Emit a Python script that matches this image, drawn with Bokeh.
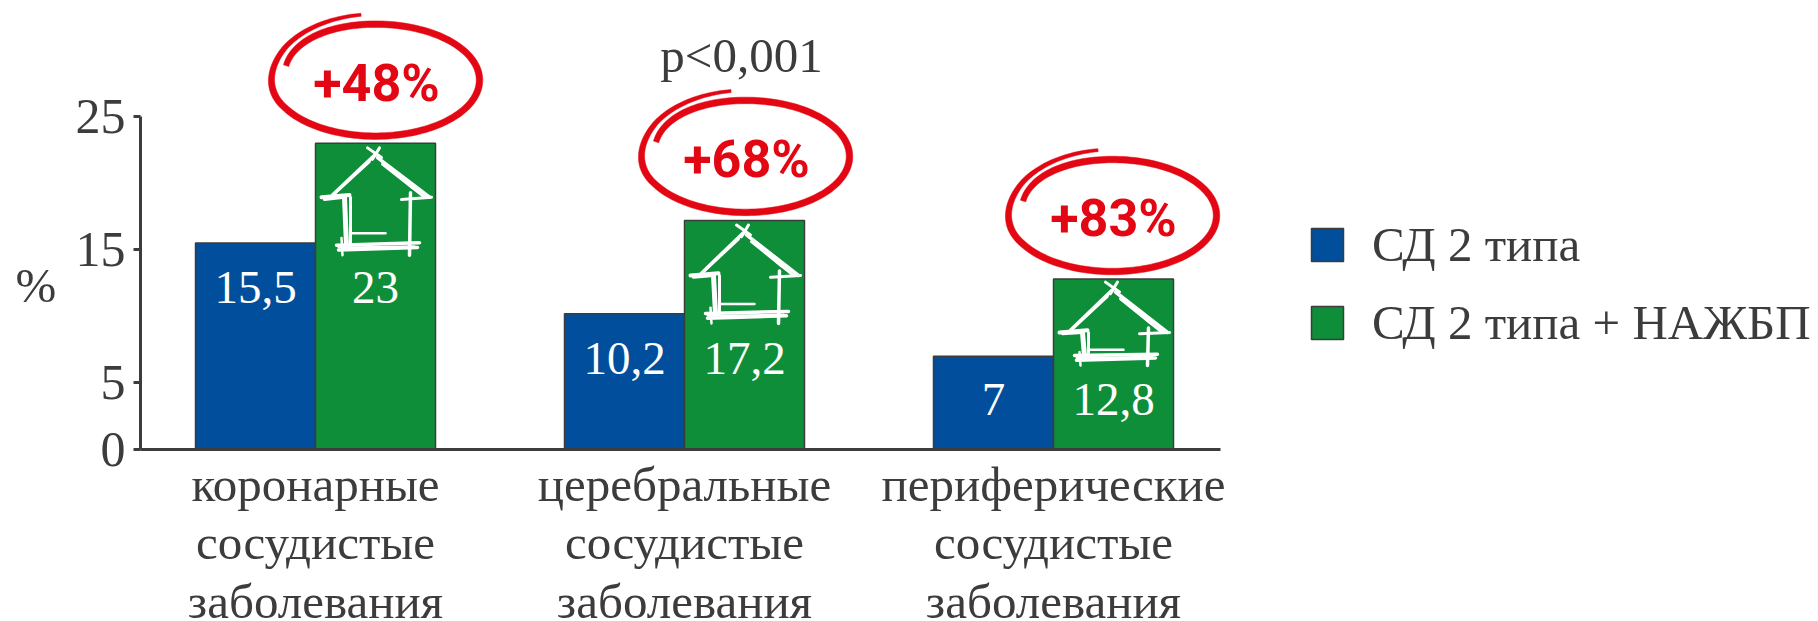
import math

from bokeh.core.properties import value
from bokeh.embed import file_html
from bokeh.models import ColumnDataSource, FixedTicker, Legend, LegendItem, LinearAxis, Range1d
from bokeh.plotting import figure
from bokeh.resources import INLINE

# --- chart values ---
categories = ["коронарные\nсосудистые\nзаболевания",
              "церебральные\nсосудистые\nзаболевания",
              "периферические\nсосудистые\nзаболевания"]
series_names = ["СД 2 типа", "СД 2 типа + НАЖБП"]
dm2_values = [15.5, 10.2, 7]
dm2_nafld_values = [23, 17.2, 12.8]
dm2_labels = ["15,5", "10,2", "7"]
dm2_nafld_labels = ["23", "17,2", "12,8"]
increase_labels = ["+48%", "+68%", "+83%"]
y_ticks = [0, 5, 15, 25]
p_value = "p<0,001"

# --- layout: the frame fills the page, one group step and one axis unit in pixels ---
W, H = 1818, 621
AXIS_X_PX, AXIS_Y_PX = 140, 449
PX_PER_GROUP = 369.0
PX_PER_UNIT = 13.32
FIRST_GROUP_PX = 315
BAR_W = 120 / PX_PER_GROUP
SERIF = "Liberation Serif"
INK = "#3c3c3c"
BLUE, GREEN, RED = "#014e9c", "#0f8e39", "#e30613"
FS = "49px"
BASELINE_DROP = 0.36            # share of the font size that glyph text sits below its anchor


def data_x(px):
    return (px - FIRST_GROUP_PX) / PX_PER_GROUP


def data_y(px):
    return (AXIS_Y_PX - px) / PX_PER_UNIT


label_y = [data_y(v - BASELINE_DROP * 47) for v in (304, 375, 416)]

p = figure(width=W, height=H, output_backend="svg", toolbar_location=None,
           min_border=0, x_axis_location=None, y_axis_location=None,
           x_range=Range1d(data_x(0), data_x(W)), y_range=Range1d(data_y(H), data_y(0)),
           outline_line_color=None, background_fill_color="white")
p.grid.visible = False

# --- axes ---
ya = LinearAxis(fixed_location=data_x(AXIS_X_PX), ticker=FixedTicker(ticks=y_ticks), bounds=(0, 25),
                axis_line_color=INK, axis_line_width=3, major_tick_line_color=INK,
                major_tick_line_width=3, major_tick_out=7, major_tick_in=0, minor_tick_line_color=None,
                major_label_text_font=SERIF, major_label_text_font_size="50px",
                major_label_text_color=INK, major_label_standoff=8)
p.add_layout(ya, "left")

xa = LinearAxis(fixed_location=0, ticker=FixedTicker(ticks=[0, 1, 2]),
                major_label_overrides={i: c for i, c in enumerate(categories)},
                bounds=(data_x(AXIS_X_PX), data_x(1220)),
                axis_line_color=INK, axis_line_width=3, major_tick_line_color=None,
                minor_tick_line_color=None, major_label_text_font=SERIF,
                major_label_text_font_size=FS, major_label_text_color=INK,
                major_label_text_line_height=1.07, major_label_standoff=1)
p.add_layout(xa, "below")

# --- bars ---
idx = list(range(len(categories)))
left_src = ColumnDataSource(dict(x=[i - BAR_W / 2 for i in idx], top=dm2_values,
                                 ly=label_y, t=dm2_labels))
right_src = ColumnDataSource(dict(x=[i + BAR_W / 2 for i in idx], top=dm2_nafld_values,
                                  ly=label_y, t=dm2_nafld_labels))
left_bars = p.vbar(x="x", top="top", bottom=0, width=BAR_W, source=left_src,
                   fill_color=BLUE, line_color=INK, line_width=1.5)
right_bars = p.vbar(x="x", top="top", bottom=0, width=BAR_W, source=right_src,
                    fill_color=GREEN, line_color=INK, line_width=1.5)
for src in (left_src, right_src):
    p.text(x="x", y="ly", text="t", source=src, text_align="center",
           text_baseline="alphabetic", text_color="white",
           text_font=value(SERIF), text_font_size="47px")


def ring_outline():
    """Outline of a pen ring that overlaps itself: x from the centre, y up from the lowest point."""
    a, cy = 104, 55
    upper, lower = [], []
    steps = 200
    line = []
    for s in range(steps + 1):
        phi = -165 + (262 + 165) * s / steps
        ax = a * (0.89 + 0.11 * min(1, (phi + 165) / 75))
        if phi < 150:
            b = 56
        elif phi < 210:
            b = 56 + 10 * (phi - 150) / 60
        else:
            b = 66
        width = 5.5 + 1 * min(1, (phi + 165) / 40) if phi < 170 else 6.5 - 3.5 * (phi - 170) / 92
        line.append((ax * math.cos(math.radians(phi)), cy - b * math.sin(math.radians(phi)), width))
    for k, (x, y, w) in enumerate(line):
        x0, y0, _ = line[max(k - 1, 0)]
        x1, y1, _ = line[min(k + 1, steps)]
        dx, dy = x1 - x0, y1 - y0
        n = math.hypot(dx, dy) or 1
        upper.append((x - dy / n * w / 2, y + dx / n * w / 2))
        lower.append((x + dy / n * w / 2, y - dx / n * w / 2))
    return upper + lower[::-1]


ring_gap = [8, 9, 8.5]          # px between ring centreline and bar top
ring_dx = [0, 1, -1]
text_lift = [41, 42, 41.5]      # px from bar top to the text baseline
text_dx = [1, 2, 0]
BADGE_PX = 52

outline = ring_outline()
ring_xs = [[right_src.data["x"][i] + (ring_dx[i] + u) / PX_PER_GROUP for u, _ in outline] for i in idx]
ring_ys = [[dm2_nafld_values[i] + (ring_gap[i] + v) / PX_PER_UNIT for _, v in outline] for i in idx]
p.patches(ring_xs, ring_ys, fill_color=RED, line_color=RED, line_width=0.5)

p.text(x=[right_src.data["x"][i] + text_dx[i] / PX_PER_GROUP for i in idx],
       y=[dm2_nafld_values[i] + (text_lift[i] + BASELINE_DROP * BADGE_PX) / PX_PER_UNIT for i in idx],
       text=increase_labels, text_align="center", text_baseline="alphabetic",
       text_color=RED, text_font=value("Roboto"), text_font_style="bold",
       text_font_size=f"{BADGE_PX}px")

# Chalk house: strokes as (x0, f0, x1, f1, width); x from the ridge; f runs 0..1 along
# the roof, 1..2 down the wall, and past 2 below the floor.
HOUSE = [(-7, -0.12, 7, 0.1, 3), (5, -0.12, -2, 0.14, 3),
         (0, 0.05, -42, 0.95, 3.5), (-5, 0.2, -39, 0.9, 2.5), (-2, 0.1, -35, 0.8, 2),
         (3, 0.1, 55, 1.0, 3.5), (8, 0.25, 50, 1.0, 3), (12, 0.3, 38, 0.8, 2),
         (-53, 1.0, -25, 0.95, 4), (-50, 1.05, -30, 1.0, 3),
         (-30, 1.0, -28, 2.02, 5), (-24, 1.0, -24, 2.0, 3),
         (27, 1.05, 57, 1.0, 3), (36, 0.9, 35, 2.25, 3.5),
         (-38, 2.0, 45, 1.95, 3.5), (-36, 2.12, 43, 2.06, 3.5), (-24, 1.75, 11, 1.75, 2.5),
         (-33, 1.85, -32, 2.25, 2.5), (-36, 2.06, 40, 2.03, 2)]
ridge_gap = [10, 10, 8.5]       # px from bar top to ridge
roof_px = [44, 45, 45]
wall_px = [48, 38, 23]
house_dx = [-1, -1, -1]

hx, hy, widths = [], [], []
for i in idx:
    cx = right_src.data["x"][i] + house_dx[i] / PX_PER_GROUP
    top = dm2_nafld_values[i]

    def house_y(f):
        if f <= 1:
            px = f * roof_px[i]
        elif f <= 2:
            px = roof_px[i] + (f - 1) * wall_px[i]
        else:
            px = roof_px[i] + wall_px[i] + (f - 2) * 40
        return top - (ridge_gap[i] + px) / PX_PER_UNIT

    for (a, b, c, d, w) in HOUSE:
        hx.append([cx + a / PX_PER_GROUP, cx + c / PX_PER_GROUP])
        hy.append([house_y(b), house_y(d)])
        widths.append(w)
p.multi_line(hx, hy, line_color="white", line_width=widths, line_cap="round")

# --- free-standing texts ---
p.text(x=[data_x(15)], y=[data_y(303 - BASELINE_DROP * 49)], text=["%"], text_baseline="alphabetic",
       text_color=INK, text_font=value(SERIF), text_font_size=FS)
p.text(x=[data_x(741)], y=[data_y(73 - BASELINE_DROP * 49)], text=[p_value], text_align="center",
       text_baseline="alphabetic", text_color=INK, text_font=value(SERIF), text_font_size=FS)

# --- legend ---
legend = Legend(items=[LegendItem(label=series_names[0], renderers=[left_bars]),
                       LegendItem(label=series_names[1], renderers=[right_bars])],
                location=(1307, 270), orientation="vertical", background_fill_alpha=0,
                border_line_color=None, glyph_width=40, glyph_height=41,
                label_standoff=25, spacing=21, padding=0, margin=0,
                label_text_font=SERIF, label_text_font_size=FS, label_text_color=INK)
p.add_layout(legend, "center")

open("out.html", "w").write(file_html(p, INLINE))
